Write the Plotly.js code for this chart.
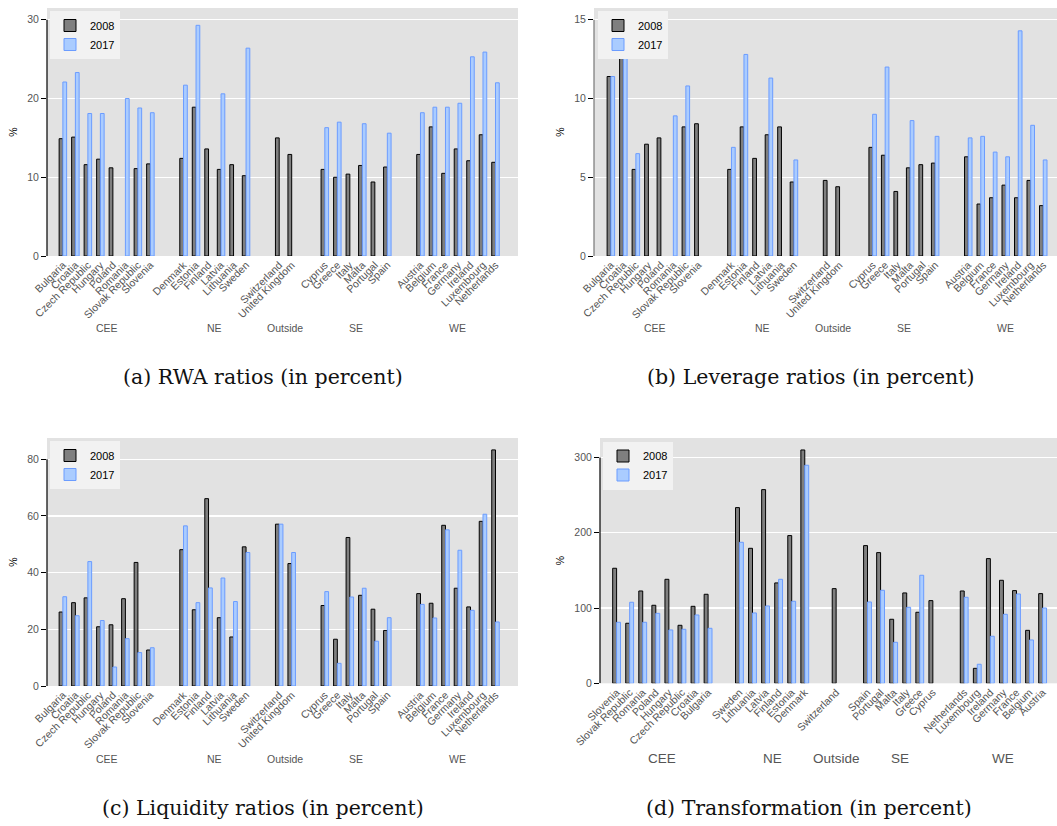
<!DOCTYPE html>
<html>
<head>
<meta charset="utf-8">
<script src="https://cdn.plot.ly/plotly-3.0.1.min.js"></script>
<style>
html,body{margin:0;padding:0;background:#ffffff;}
#chart{width:1057px;height:826px;}
</style>
</head>
<body>
<div id="chart"></div>
<script>
// ---------- data ----------
const countriesABC = ['Bulgaria','Croatia','Czech Republic','Hungary','Poland','Romania','Slovak Republic','Slovenia',
  'Denmark','Estonia','Finland','Latvia','Lithuania','Sweden',
  'Switzerland','United Kingdom',
  'Cyprus','Greece','Italy','Malta','Portugal','Spain',
  'Austria','Belgium','France','Germany','Ireland','Luxembourg','Netherlands'];
const regionsABC = ['CEE','CEE','CEE','CEE','CEE','CEE','CEE','CEE',
  'NE','NE','NE','NE','NE','NE',
  'Outside','Outside',
  'SE','SE','SE','SE','SE','SE',
  'WE','WE','WE','WE','WE','WE','WE'];

const rwa2008 = [14.9,15.1,11.6,12.3,11.2,null,11.1,11.7, 12.4,18.9,13.6,11.0,11.6,10.2, 15.0,12.9, 11.0,10.0,10.4,11.5,9.4,11.3, 12.9,16.4,10.5,13.6,12.1,15.4,11.9];
const rwa2017 = [22.1,23.3,18.1,18.1,null,20.0,18.8,18.2, 21.7,29.3,null,20.6,null,26.4, null,null, 16.3,17.0,null,16.8,null,15.6, 18.2,18.9,18.9,19.4,25.3,25.9,22.0];

const lev2008 = [11.4,13.8,5.5,7.1,7.5,null,8.2,8.4, 5.5,8.2,6.2,7.7,8.2,4.7, 4.8,4.4, 6.9,6.4,4.1,5.6,5.8,5.9, 6.3,3.3,3.7,4.5,3.7,4.8,3.2];
const lev2017 = [11.4,13.6,6.5,null,null,8.9,10.8,null, 6.9,12.8,null,11.3,null,6.1, null,null, 9.0,12.0,null,8.6,null,7.6, 7.5,7.6,6.6,6.3,14.3,8.3,6.1];

const liq2008 = [26.1,29.4,31.1,20.9,21.6,30.8,43.6,12.7, 48.1,26.9,66.1,24.1,17.3,49.1, 57.1,43.2, 28.4,16.5,52.4,32.0,27.1,19.6, 32.6,29.2,56.7,34.5,27.9,58.1,83.3];
const liq2017 = [31.5,24.8,43.9,23.1,6.7,16.7,11.8,13.5, 56.5,29.4,34.6,38.1,29.8,47.1, 57.1,47.1, 33.3,8.0,31.4,34.5,15.8,24.1, 28.8,24.0,55.1,47.9,26.7,60.6,22.6];

const countriesD = ['Slovenia','Slovak Republic','Romania','Poland','Hungary','Czech Republic','Croatia','Bulgaria',
  'Sweden','Lithuania','Latvia','Finland','Estonia','Denmark',
  'Switzerland',
  'Spain','Portugal','Malta','Italy','Greece','Cyprus',
  'Netherlands','Luxembourg','Ireland','Germany','France','Belgium','Austria'];
const regionsD = ['CEE','CEE','CEE','CEE','CEE','CEE','CEE','CEE',
  'NE','NE','NE','NE','NE','NE',
  'Outside',
  'SE','SE','SE','SE','SE','SE',
  'WE','WE','WE','WE','WE','WE','WE'];
const trans2008 = [152.9,79.8,122.7,103.7,138.2,77.1,102.3,118.3, 233.5,179.4,257.4,133.4,196.3,310.1, 125.8, 183.0,173.7,85.1,120.1,94.4,109.9, 122.7,19.9,165.7,136.9,123.2,70.4,119.2];
const trans2017 = [81.1,107.7,81.1,93.0,70.9,71.8,90.8,73.1, 187.4,93.5,102.8,138.2,109.0,289.8, null, 108.1,123.6,54.5,101.0,143.6,null, 114.3,25.3,62.5,91.7,118.7,57.6,100.1];

const seriesNames = ['2008','2017'];
const yTicksA = [0,10,20,30];
const yTicksB = [0,5,10,15];
const yTicksC = [0,20,40,60,80];
const yTicksD = [0,100,200,300];
const captions = ['(a) RWA ratios (in percent)','(b) Leverage ratios (in percent)','(c) Liquidity ratios (in percent)','(d) Transformation (in percent)'];

// ---------- layout helpers ----------
const W = 1057, H = 826;
const px = v => v / W;
const py = v => 1 - v / H;

function positions(regions, extra) {
  const pos = []; let off = 0;
  regions.forEach((r, k) => { if (k > 0 && r !== regions[k-1]) off += extra; pos.push(k + off); });
  return pos;
}
function groupCenters(regions, pos) {
  const out = [];
  regions.forEach((r, k) => {
    let g = out.find(o => o.name === r);
    if (!g) { g = {name: r, s: 0, n: 0}; out.push(g); }
    g.s += pos[k]; g.n += 1;
  });
  return out.map(g => ({name: g.name, x: g.s / g.n}));
}

const panels = [
  {countries: countriesABC, regions: regionsABC, v08: rwa2008, v17: rwa2017, ticks: yTicksA, ymax: 31.5,
   extra: 1.65, xd: [47, 518], yd: [8, 256], L: 1.27, R: 1.8, leg: [50, 11], grpY: 328, grpSize: 10.5, cap: [263, 377], axisCol: '#000'},
  {countries: countriesABC, regions: regionsABC, v08: lev2008, v17: lev2017, ticks: yTicksB, ymax: 15.75,
   extra: 1.65, xd: [594, 1057], yd: [8, 256], L: 1.35, R: 1.1, leg: [598, 11], grpY: 328, grpSize: 10.5, cap: [810, 377], axisCol: '#777'},
  {countries: countriesABC, regions: regionsABC, v08: liq2008, v17: liq2017, ticks: yTicksC, ymax: 87.5,
   extra: 1.65, xd: [47, 518], yd: [438, 686], L: 1.27, R: 1.8, leg: [50, 441], grpY: 759, grpSize: 10.5, cap: [263, 808], axisCol: '#000'},
  {countries: countriesD, regions: regionsD, v08: trans2008, v17: trans2017, ticks: yTicksD, ymax: 326,
   extra: 1.4, xd: [600, 1057], yd: [438, 683.3], L: 1.27, R: 1.1, leg: [603, 441.5], grpY: 758, grpSize: 13.5, cap: [809, 808], axisCol: '#000'}
];

const traces = [];
const layout = {
  width: W, height: H,
  margin: {l: 0, r: 0, t: 0, b: 0},
  paper_bgcolor: '#ffffff',
  plot_bgcolor: '#e2e2e2',
  barmode: 'group', bargap: 0.4, bargroupgap: 0,
  font: {family: 'Liberation Sans, Arial, sans-serif', size: 10.5, color: '#555'},
  annotations: [], shapes: []
};

panels.forEach((p, i) => {
  const n = i === 0 ? '' : String(i + 1);
  const xa = 'x' + n, ya = 'y' + n, legName = 'legend' + n;
  const pos = positions(p.regions, p.extra);

  traces.push({type: 'bar', name: seriesNames[0], x: pos, y: p.v08, xaxis: xa, yaxis: ya, legend: legName,
    marker: {color: '#7f7f7f', line: {color: '#000000', width: 1}}, hoverinfo: 'x+y'});
  traces.push({type: 'bar', name: seriesNames[1], x: pos, y: p.v17, xaxis: xa, yaxis: ya, legend: legName,
    marker: {color: '#aaccff', line: {color: '#6b9cff', width: 1}}, hoverinfo: 'x+y'});

  layout['xaxis' + n] = {
    domain: [px(p.xd[0]), px(p.xd[1])], anchor: ya,
    range: [-p.L, pos[pos.length - 1] + p.R],
    tickvals: pos, ticktext: p.countries, tickangle: -45,
    ticks: '', showgrid: false, zeroline: false, showline: false,
    tickfont: {size: 10.5, color: '#555'}
  };
  layout['yaxis' + n] = {
    domain: [py(p.yd[1]), py(p.yd[0])], anchor: xa,
    range: [0, p.ymax], tickvals: p.ticks,
    ticks: 'outside', ticklen: 5, tickwidth: 1, tickcolor: '#000',
    showgrid: true, gridcolor: '#ffffff', gridwidth: 1.2,
    zeroline: false, showline: false,
    tickfont: {size: 10.5, color: '#555'},
    title: {text: '%', font: {size: 10.5, color: '#000'}, standoff: 7}
  };
  layout[legName] = {
    x: px(p.leg[0]), y: py(p.leg[1]), xref: 'paper', yref: 'paper',
    xanchor: 'left', yanchor: 'top', bgcolor: '#f2f2f2', borderwidth: 0,
    font: {size: 11, color: '#000'}, tracegroupgap: 0
  };
  layout.shapes.push({type: 'line', xref: xa + ' domain', yref: ya, x0: 0, x1: 0,
    y0: p.ticks[0], y1: p.ticks[p.ticks.length - 1], line: {color: p.axisCol, width: 1.2}});

  groupCenters(p.regions, pos).forEach(g => {
    layout.annotations.push({xref: xa, yref: 'paper', x: g.x, y: py(p.grpY), text: g.name,
      showarrow: false, xanchor: 'center', yanchor: 'middle', font: {size: p.grpSize, color: '#555'}});
  });
  layout.annotations.push({xref: 'paper', yref: 'paper', x: px(p.cap[0]), y: py(p.cap[1]), text: captions[i],
    showarrow: false, xanchor: 'center', yanchor: 'middle',
    font: {family: 'DejaVu Serif, serif', size: 20.5, color: '#111'}});
});

Plotly.newPlot('chart', traces, layout, {displayModeBar: false, staticPlot: true});
</script>
</body>
</html>
